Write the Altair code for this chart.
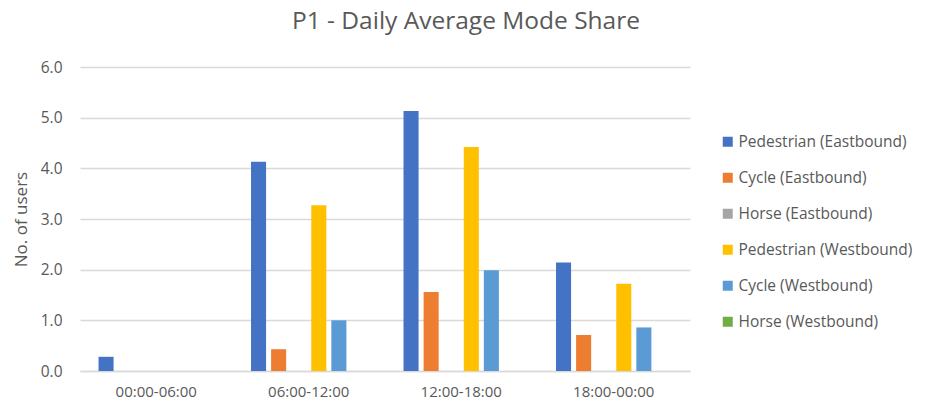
import altair as alt
import pandas as pd

periods = ["00:00-06:00", "06:00-12:00", "12:00-18:00", "18:00-00:00"]
series = ["Pedestrian (Eastbound)", "Cycle (Eastbound)", "Horse (Eastbound)",
          "Pedestrian (Westbound)", "Cycle (Westbound)", "Horse (Westbound)"]
colors = ["#4472C4", "#ED7D31", "#A5A5A5", "#FFC000", "#5B9BD5", "#70AD47"]
values = {
    "Pedestrian (Eastbound)": [0.28, 4.13, 5.13, 2.14],
    "Cycle (Eastbound)": [0.0, 0.43, 1.56, 0.71],
    "Horse (Eastbound)": [0.0, 0.0, 0.0, 0.0],
    "Pedestrian (Westbound)": [0.0, 3.27, 4.42, 1.72],
    "Cycle (Westbound)": [0.0, 1.0, 1.99, 0.86],
    "Horse (Westbound)": [0.0, 0.0, 0.0, 0.0],
}

rows = []
for s in series:
    for p, v in zip(periods, values[s]):
        rows.append({"Period": p, "Series": s, "Users": v})
df = pd.DataFrame(rows)

FONT = "Open Sans"
GREY = "#595959"

chart = alt.Chart(df).mark_bar().encode(
    x=alt.X("Period:N", sort=periods, title=None,
            scale=alt.Scale(paddingInner=0.21, paddingOuter=0.105),
            axis=alt.Axis(labelAngle=0, labelColor=GREY, labelFontSize=15, labelFont=FONT,
                          labelPadding=13, ticks=False, domainColor="#d9d9d9", domainWidth=1.5)),
    xOffset=alt.XOffset("Series:N", sort=series,
                        scale=alt.Scale(paddingInner=0.25, paddingOuter=0.125)),
    y=alt.Y("Users:Q", title="No. of users",
            scale=alt.Scale(domain=[0, 6]),
            axis=alt.Axis(values=[0, 1, 2, 3, 4, 5, 6], format=".1f", labelColor=GREY,
                          labelFontSize=15.5, labelFont=FONT, labelPadding=18, ticks=False,
                          domain=False, gridColor="#d9d9d9", gridWidth=1.5,
                          titleColor=GREY, titleFontSize=17, titleFont=FONT,
                          titleFontWeight="normal", titlePadding=10)),
    color=alt.Color("Series:N", sort=series,
                    scale=alt.Scale(domain=series, range=colors),
                    legend=alt.Legend(title=None, orient="none", legendX=640, legendY=67,
                                      symbolType="square", symbolSize=100,
                                      symbolStrokeWidth=0, labelFontSize=15.5,
                                      labelFont=FONT, labelColor=GREY, rowPadding=19,
                                      labelOffset=3, labelLimit=300)),
).properties(
    width=610,
    height=304,
    padding={"left": 72, "top": 59, "right": 235, "bottom": 29},
    autosize=alt.AutoSizeParams(type="none"),
    title=alt.TitleParams("P1 - Daily Average Mode Share", fontSize=24.5, font=FONT,
                          fontWeight="normal", color=GREY, anchor="middle", dx=81,
                          offset=26),
).configure_view(stroke=None)

chart.save("out.html", embed_options={"renderer": "svg", "actions": False})
